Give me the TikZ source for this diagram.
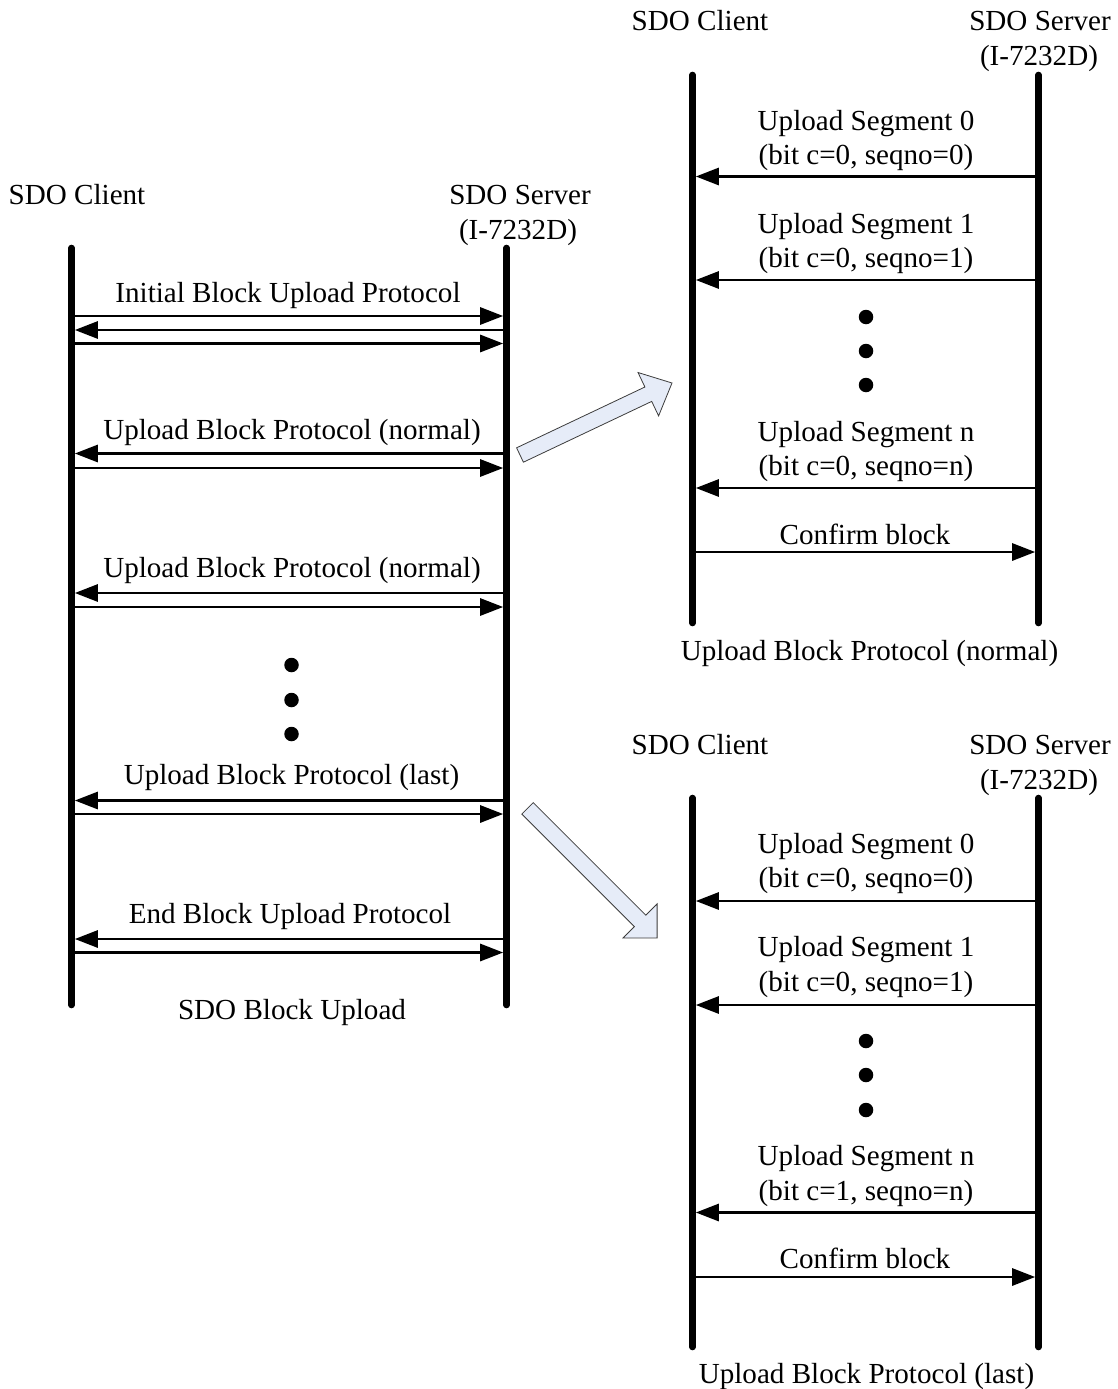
\documentclass[tikz,border=0pt]{standalone}
\usepackage{fontspec}
\setmainfont{Liberation Serif}
\usetikzlibrary{arrows.meta}
\definecolor{arrfill}{RGB}{230,236,248}
\definecolor{arrline}{RGB}{60,60,60}
\tikzset{
  life/.style={line width=6.6pt, line cap=round},
  msg/.style={line width=2.8pt, -{Triangle[length=23pt,width=17pt]}, shorten >=3.3pt},
  lbl/.style={anchor=base, inner sep=0pt, font=\fontsize{29.1}{34}\selectfont},
  bigarrow/.style={fill=arrfill, draw=arrline, line width=0.8pt, line join=miter},
  dotmark/.style={circle, fill=black, inner sep=0pt, minimum size=14.5pt}
}
\begin{document}
\begin{tikzpicture}[x=1pt, y=-1pt]
\useasboundingbox (0,0) rectangle (1118,1389);

% ---------- lifeline end points ----------
\coordinate (c1t) at (71.5,248);   \coordinate (c1b) at (71.5,1005);
\coordinate (s1t) at (506.5,248);  \coordinate (s1b) at (506.5,1005);
\coordinate (c2t) at (692.5,75);   \coordinate (c2b) at (692.5,623);
\coordinate (s2t) at (1038.5,75);  \coordinate (s2b) at (1038.5,623);
\coordinate (c3t) at (692.5,798);  \coordinate (c3b) at (692.5,1347);
\coordinate (s3t) at (1038.5,798); \coordinate (s3b) at (1038.5,1347);

% ---------- left diagram ----------
\node[lbl] (lcl) at (77,204) {SDO Client};
\node[lbl] (lsv) at (520,204) {SDO Server};
\node[lbl] (lsv2) at (518,239) {(I-7232D)};

\node[lbl] (t1) at (288,302) {Initial Block Upload Protocol};
\draw[msg] (c1t |- 0,316) -- (s1t |- 0,316);
\draw[msg] (s1t |- 0,330) -- (c1t |- 0,330);
\draw[msg] (c1t |- 0,343.5) -- (s1t |- 0,343.5);

\node[lbl] (t2) at (292,439) {Upload Block Protocol (normal)};
\draw[msg] (s1t |- 0,453.5) -- (c1t |- 0,453.5);
\draw[msg] (c1t |- 0,468) -- (s1t |- 0,468);

\node[lbl] (t3) at (292,577) {Upload Block Protocol (normal)};
\draw[msg] (s1t |- 0,593) -- (c1t |- 0,593);
\draw[msg] (c1t |- 0,607) -- (s1t |- 0,607);

\node[dotmark] (ld1) at (291.5,665) {};
\node[dotmark] (ld2) at (291.5,700) {};
\node[dotmark] (ld3) at (291.5,734) {};

\node[lbl] (t4) at (291.5,784) {Upload Block Protocol (last)};
\draw[msg] (s1t |- 0,800.5) -- (c1t |- 0,800.5);
\draw[msg] (c1t |- 0,814) -- (s1t |- 0,814);

\node[lbl] (t5) at (290,923) {End Block Upload Protocol};
\draw[msg] (s1t |- 0,939) -- (c1t |- 0,939);
\draw[msg] (c1t |- 0,952.5) -- (s1t |- 0,952.5);

\node[lbl] (t6) at (292,1019) {SDO Block Upload};

\draw[life] (c1t) -- (c1b);
\draw[life] (s1t) -- (s1b);

% ---------- top right diagram ----------
\node[lbl] (rcl) at (700,31) {SDO Client};
\node[lbl] (rsv) at (1040,31) {SDO Server};
\node[lbl] (rsv2) at (1039,66) {(I-7232D)};

\node[lbl] (a1) at (866,130) {Upload Segment 0};
\node[lbl] (a1b) at (866,164) {(bit c=0, seqno=0)};
\draw[msg] (s2t |- 0,176.5) -- (c2t |- 0,176.5);

\node[lbl] (a2) at (866,233) {Upload Segment 1};
\node[lbl] (a2b) at (866,267) {(bit c=0, seqno=1)};
\draw[msg] (s2t |- 0,280) -- (c2t |- 0,280);

\node[dotmark] (ad1) at (866,317) {};
\node[dotmark] (ad2) at (866,351) {};
\node[dotmark] (ad3) at (866,385) {};

\node[lbl] (a3) at (866,441) {Upload Segment n};
\node[lbl] (a3b) at (866,475) {(bit c=0, seqno=n)};
\draw[msg] (s2t |- 0,488) -- (c2t |- 0,488);

\node[lbl] (a4) at (865,544) {Confirm block};
\draw[msg] (c2t |- 0,552) -- (s2t |- 0,552);

\node[lbl] (a5) at (869.5,660) {Upload Block Protocol (normal)};

\draw[life] (c2t) -- (c2b);
\draw[life] (s2t) -- (s2b);

% ---------- bottom right diagram ----------
\node[lbl] (bcl) at (700,754) {SDO Client};
\node[lbl] (bsv) at (1040,754) {SDO Server};
\node[lbl] (bsv2) at (1039,789) {(I-7232D)};

\node[lbl] (b1) at (866,853) {Upload Segment 0};
\node[lbl] (b1b) at (866,887) {(bit c=0, seqno=0)};
\draw[msg] (s3t |- 0,901) -- (c3t |- 0,901);

\node[lbl] (b2) at (866,956) {Upload Segment 1};
\node[lbl] (b2b) at (866,991) {(bit c=0, seqno=1)};
\draw[msg] (s3t |- 0,1005) -- (c3t |- 0,1005);

\node[dotmark] (bd1) at (866,1041) {};
\node[dotmark] (bd2) at (866,1075) {};
\node[dotmark] (bd3) at (866,1110) {};

\node[lbl] (b3) at (866,1165) {Upload Segment n};
\node[lbl] (b3b) at (866,1200) {(bit c=1, seqno=n)};
\draw[msg] (s3t |- 0,1212.5) -- (c3t |- 0,1212.5);

\node[lbl] (b4) at (865,1268) {Confirm block};
\draw[msg] (c3t |- 0,1277) -- (s3t |- 0,1277);

\node[lbl] (b5) at (866.5,1383) {Upload Block Protocol (last)};

\draw[life] (c3t) -- (c3b);
\draw[life] (s3t) -- (s3b);

% ---------- hollow block arrows ----------
\draw[bigarrow] (516.6,447.8) -- (644.9,387.0) -- (638.0,372.5) -- (672,383)
  -- (658.6,415.9) -- (651.7,401.4) -- (523.4,462.2) -- cycle;
\draw[bigarrow] (533.2,802.6) -- (645.8,915.2) -- (657.1,903.9) -- (657.1,937.9)
  -- (623.1,937.9) -- (634.4,926.6) -- (521.8,814.0) -- cycle;
\end{tikzpicture}
\end{document}
